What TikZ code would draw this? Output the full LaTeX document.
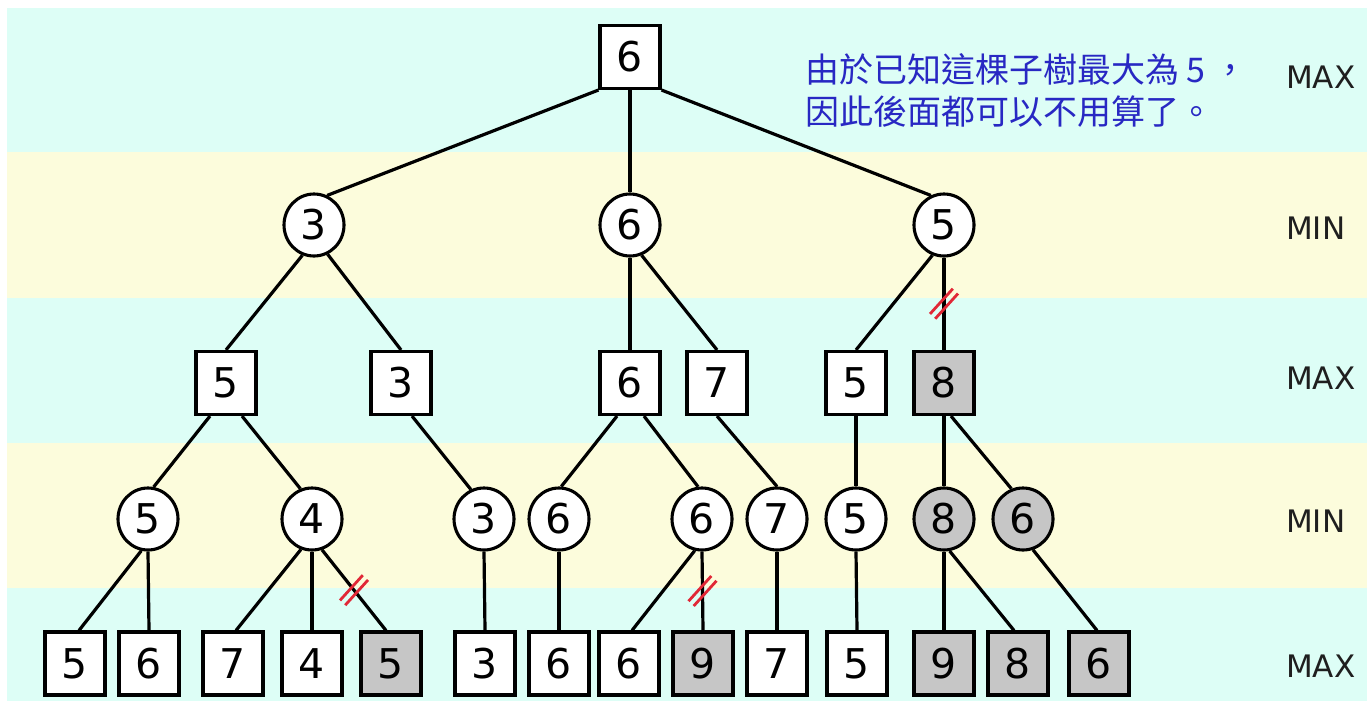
\documentclass[tikz,border=0pt]{standalone}
\usepackage{fontspec}
\setmainfont{DejaVu Sans}
\newfontfamily\cjk{Noto Sans CJK TC}
\usetikzlibrary{shapes.geometric}
\definecolor{bandC}{RGB}{221,254,246}
\definecolor{bandY}{RGB}{252,252,220}
\definecolor{nodegray}{RGB}{198,198,198}
\definecolor{txtblue}{RGB}{40,40,195}
\definecolor{cutred}{RGB}{225,40,55}
\newcommand\cutmarkat[1]{%
  \draw[cut] ([shift={(-14,10.2)}]#1) -- ([shift={(8.8,-15)}]#1);
  \draw[cut] ([shift={(-8.8,15)}]#1) -- ([shift={(14,-10.2)}]#1);}
\begin{document}
\begin{tikzpicture}[x=1pt,y=-1pt,
  maxbox/.style={draw, line width=3.1pt, fill=white, minimum width=60pt, minimum height=63pt, inner sep=0pt, font=\fontsize{41}{41}\selectfont},
  minnode/.style={ellipse, draw, line width=3.1pt, fill=white, minimum width=60pt, minimum height=62pt, inner sep=0pt, font=\fontsize{41}{41}\selectfont},
  grayed/.style={fill=nodegray},
  edge/.style={line width=3.2pt},
  cut/.style={draw=cutred, line width=2.8pt},
  lvl/.style={anchor=west, inner sep=0pt, font=\fontsize{31}{31}\selectfont, text=black!88},
  note/.style={anchor=base west, inner sep=0pt, text=txtblue, font=\cjk\fontsize{34}{40}\selectfont}
]
% background bands
\fill[white] (0,0) rectangle (1367,701);
\fill[bandC] (7,8) rectangle (1367,152);
\fill[bandY] (7,152) rectangle (1367,298);
\fill[bandC] (7,298) rectangle (1367,443);
\fill[bandY] (7,443) rectangle (1367,588);
\fill[bandC] (7,588) rectangle (1367,701);
\useasboundingbox (0,0) rectangle (1367,701);

% level labels
\node[lvl] (t0) at (1286,77) {MAX};
\node[lvl] (t1) at (1286,228) {MIN};
\node[lvl] (t2) at (1286,378) {MAX};
\node[lvl] (t3) at (1286,521) {MIN};
\node[lvl] (t4) at (1286,666) {MAX};

% note
\node[note] (n1) at (805,82) {由於已知這棵子樹最大為 5 ，};
\node[note] (n2) at (805,124) {因此後面都可以不用算了。};

% level 0
\node[maxbox] (r) at (630,57) {6};
% level 1
\node[minnode] (a) at (314,225) {3};
\node[minnode] (b) at (630,225) {6};
\node[minnode] (c) at (944,225) {5};
% level 2
\node[maxbox] (a1) at (226,383) {5};
\node[maxbox] (a2) at (401,383) {3};
\node[maxbox] (b1) at (630,383) {6};
\node[maxbox] (b2) at (717,383) {7};
\node[maxbox] (c1) at (856,383) {5};
\node[maxbox,grayed] (c2) at (944,383) {8};
% level 3
\node[minnode] (a1a) at (148,519) {5};
\node[minnode] (a1b) at (312,519) {4};
\node[minnode] (a2a) at (484,519) {3};
\node[minnode] (b1a) at (559,519) {6};
\node[minnode] (b1b) at (702,519) {6};
\node[minnode] (b2a) at (777,519) {7};
\node[minnode] (c1a) at (856,519) {5};
\node[minnode,grayed] (c2a) at (944,519) {8};
\node[minnode,grayed] (c2b) at (1023,519) {6};
% leaves
\node[maxbox] (l1) at (75,663.5) {5};
\node[maxbox] (l2) at (149,663.5) {6};
\node[maxbox] (l3) at (233,663.5) {7};
\node[maxbox] (l4) at (312,663.5) {4};
\node[maxbox,grayed] (l5) at (391,663.5) {5};
\node[maxbox] (l6) at (485,663.5) {3};
\node[maxbox] (l7) at (559,663.5) {6};
\node[maxbox] (l8) at (629,663.5) {6};
\node[maxbox,grayed] (l9) at (703,663.5) {9};
\node[maxbox] (l10) at (777,663.5) {7};
\node[maxbox] (l11) at (857,663.5) {5};
\node[maxbox,grayed] (l12) at (944,663.5) {9};
\node[maxbox,grayed] (l13) at (1018,663.5) {8};
\node[maxbox,grayed] (l14) at (1099,663.5) {6};

% connectors
\draw[edge] (r.south west) -- (a.66);
\draw[edge] (r.south) -- (b.north);
\draw[edge] (r.south east) -- (c.114);
\draw[edge] (a.-111) -- (a1.north);
\draw[edge] (a.-65) -- (a2.north);
\draw[edge] (b.south) -- (b1.north);
\draw[edge] (b.-69) -- (b2.north);
\draw[edge] (c.-111) -- (c1.north);
\draw[edge] (c.south) -- coordinate (cut1) (c2.north);
\draw[edge] ([xshift=-16pt]a1.south) -- (a1a.80);
\draw[edge] ([xshift=16pt]a1.south) -- (a1b.111);
\draw[edge] ([xshift=11pt]a2.south) -- (a2a.114);
\draw[edge] ([xshift=-13pt]b1.south) -- (b1a.86);
\draw[edge] ([xshift=14pt]b1.south) -- (b1b.97);
\draw[edge] (b2.south) -- (b2a.north);
\draw[edge] (c1.south) -- (c1a.north);
\draw[edge] (c2.south) -- (c2a.north);
\draw[edge] ([xshift=7pt]c2.south) -- (c2b.111);
\draw[edge] (a1a.-102) -- ([xshift=4pt]l1.north);
\draw[edge] (a1a.south) -- (l2.north);
\draw[edge] (a1b.-110) -- ([xshift=3pt]l3.north);
\draw[edge] (a1b.south) -- (l4.north);
\draw[edge] (a1b.-72) -- coordinate (cut2) ([xshift=-5pt]l5.north);
\draw[edge] (a2a.south) -- (l6.north);
\draw[edge] (b1a.south) -- (l7.north);
\draw[edge] (b1b.-103) -- ([xshift=3pt]l8.north);
\draw[edge] (b1b.south) -- coordinate (cut3) (l9.north);
\draw[edge] (b2a.south) -- (l10.north);
\draw[edge] (c1a.south) -- (l11.north);
\draw[edge] (c2a.south) -- (l12.north);
\draw[edge] (c2a.-80) -- ([xshift=-4pt]l13.north);
\draw[edge] (c2b.-72) -- ([xshift=-2pt]l14.north);

% cut marks
\cutmarkat{cut1}
\cutmarkat{cut2}
\cutmarkat{cut3}
\end{tikzpicture}
\end{document}
